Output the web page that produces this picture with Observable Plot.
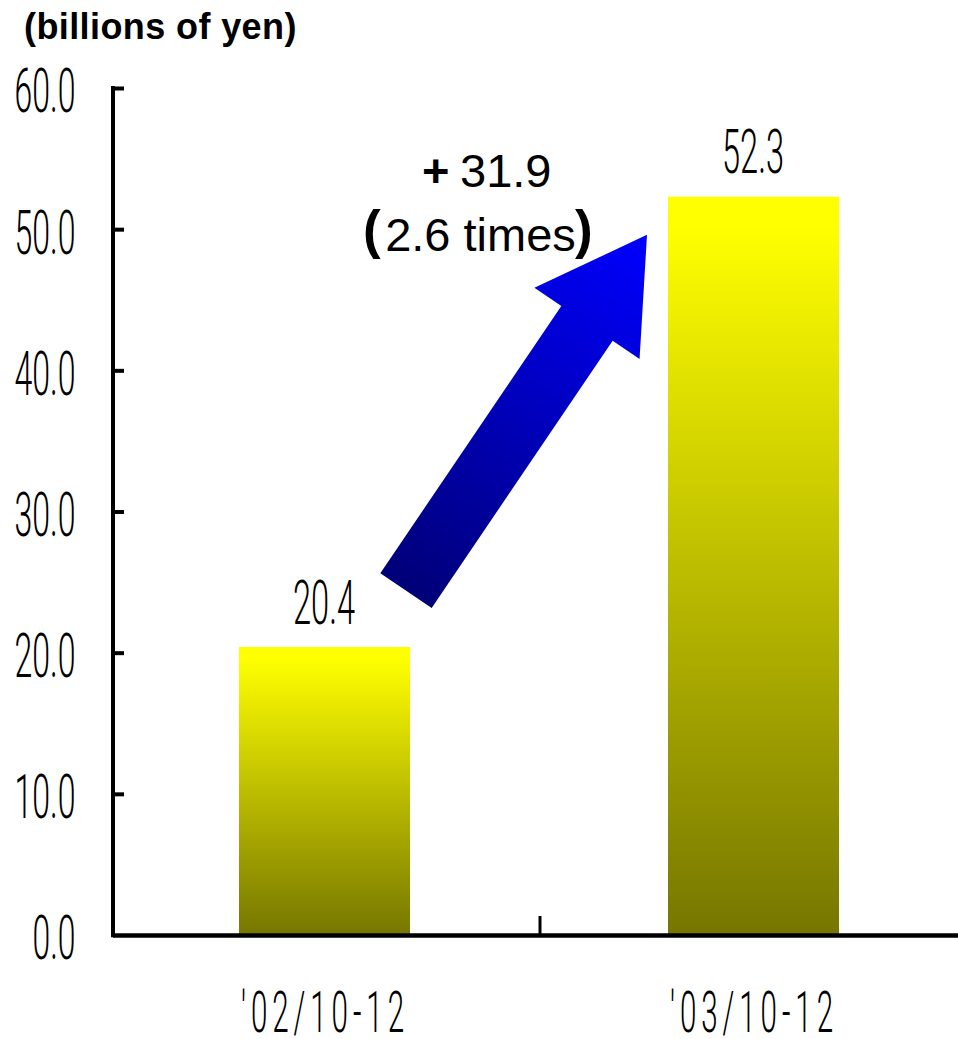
<!DOCTYPE html>
<html><head><meta charset="utf-8">
<script src="https://cdn.jsdelivr.net/npm/d3@7"></script>
<script src="https://cdn.jsdelivr.net/npm/@observablehq/plot@0.6"></script>
<style>
body{margin:0;background:#fff;width:958px;height:1039px;overflow:hidden;}
#title{height:54px;padding-top:6px;line-height:50px;padding-left:24px;font:bold 36px "Liberation Sans",Arial,sans-serif;letter-spacing:0.4px;color:#000;white-space:nowrap;}
svg{display:block}
.narrow{font-family:Roboto,"Liberation Sans",sans-serif;font-weight:300;}
</style></head><body>
<div id="title">(billions of yen)</div>
<div id="chart"></div>
<script>
const periods = ["'02/10-12", "'03/10-12"];
const sales = [20.4, 52.3];
const valueLabels = ["20.4", "52.3"];
const yTicks = [0, 10, 20, 30, 40, 50, 60];
const increaseLabel = "31.9";
const ratioLabel = "2.6 times";
const arrowFromValue = 24.4;
const arrowToValue = 49.6;

const data = periods.map((p, i) => ({period: p, value: sales[i], label: valueLabels[i]}));

function defsMark() {
  const g = d3.create("svg:g");
  const grad = g.append("defs").append("linearGradient")
    .attr("id", "barGrad").attr("x1", 0).attr("y1", 0).attr("x2", 0).attr("y2", 1);
  grad.append("stop").attr("offset", 0).attr("stop-color", "#ffff00");
  grad.append("stop").attr("offset", 0.04).attr("stop-color", "#ffff00");
  grad.append("stop").attr("offset", 1).attr("stop-color", "#767600");
  return g.node();
}

function axisLines(index, scales, values, dims) {
  const {x, y} = scales;
  const bw = x.bandwidth();
  const g = d3.create("svg:g").attr("stroke", "#000");
  const xl = dims.marginLeft;
  g.append("line").attr("x1", xl).attr("x2", xl)
    .attr("y1", y(yTicks[yTicks.length - 1]) - 2).attr("y2", y(0) + 2.2).attr("stroke-width", 4);
  const xm = (x(periods[0]) + bw + x(periods[1])) / 2 + 1;
  g.append("line").attr("x1", xm).attr("x2", xm)
    .attr("y1", y(0)).attr("y2", y(0) - 19).attr("stroke-width", 3);
  return g.node();
}

function arrowMark(index, scales) {
  const {x, y} = scales;
  const bw = x.bandwidth();
  const x0 = x(periods[0]) + bw - 4, y0 = y(arrowFromValue);
  const x1 = x(periods[1]) - 21, y1 = y(arrowToValue);
  const vx = x1 - x0, vy = y1 - y0, L = Math.hypot(vx, vy);
  const ux = vx / L, uy = vy / L, nx = -uy, ny = ux;
  const sw = 31, hw = 63.5, hl = 107;
  const hx = x0 + ux * (L - hl), hy = y0 + uy * (L - hl);
  const pts = [
    [x0 - nx * sw, y0 - ny * sw], [hx - nx * sw, hy - ny * sw], [hx - nx * hw, hy - ny * hw],
    [x1, y1],
    [hx + nx * hw, hy + ny * hw], [hx + nx * sw, hy + ny * sw], [x0 + nx * sw, y0 + ny * sw]
  ];
  const g = d3.create("svg:g");
  const grad = g.append("defs").append("linearGradient")
    .attr("id", "arrowGrad").attr("gradientUnits", "userSpaceOnUse")
    .attr("x1", x0).attr("y1", y0).attr("x2", x1).attr("y2", y1);
  grad.append("stop").attr("offset", 0).attr("stop-color", "#000078");
  grad.append("stop").attr("offset", 1).attr("stop-color", "#0000ff");
  g.append("path").attr("d", "M" + pts.map(p => p.join(",")).join("L") + "Z").attr("fill", "url(#arrowGrad)");
  return g.node();
}

const chart = Plot.plot({
  width: 958, height: 979,
  marginTop: 28, marginBottom: 104, marginLeft: 113, marginRight: 0,
  style: {fontFamily: '"Liberation Sans", Arial, sans-serif', background: "#fff", color: "#000", overflow: "visible"},
  x: {type: "band", domain: periods, paddingInner: 0.6014, paddingOuter: 0.2855, align: 0.514},
  y: {domain: [0, 60]},
  marks: [
    defsMark,
    Plot.barY(data, {x: "period", y: "value", fill: "url(#barGrad)"}),
    Plot.ruleY([0], {strokeWidth: 4.5, stroke: "#000"}),
    axisLines,
    Plot.axisY(yTicks.slice(1), {tickSize: -11, strokeWidth: 4, tickFormat: () => "", label: null}),
    Plot.axisY(yTicks, {tickSize: 0, tickPadding: 38, tickFormat: d3.format(".1f"), fontSize: 62, dy: 4, label: null}),
    Plot.axisX({tickSize: 0, tickPadding: 56, fontSize: 57, label: null}),
    Plot.text(data, {x: "period", y: "value", text: "label", lineAnchor: "bottom", dy: -24, dx: -1, fontSize: 61}),
    Plot.text(["+"], {x: () => periods[0], y: () => 53.0, text: d => d, textAnchor: "end", lineAnchor: "bottom", dx: 124.5, fontSize: 47, fontWeight: "bold"}),
    Plot.text([increaseLabel], {x: () => periods[0], y: () => 53.0, text: d => d, textAnchor: "start", lineAnchor: "bottom", dx: 135, fontSize: 47}),
    Plot.text([ratioLabel], {x: () => periods[0], y: () => 48.52, text: d => d, textAnchor: "middle", lineAnchor: "bottom", dx: 155.5, fontSize: 47}),
    Plot.text(["("], {x: () => periods[0], y: () => 48.52, text: d => d, textAnchor: "start", lineAnchor: "bottom", dx: 38, dy: -3, fontSize: 53, fontWeight: "bold"}),
    Plot.text([")"], {x: () => periods[0], y: () => 48.52, text: d => d, textAnchor: "start", lineAnchor: "bottom", dx: 250, dy: -3, fontSize: 53, fontWeight: "bold"}),
    arrowMark
  ]
});
document.getElementById("chart").appendChild(chart);

function squeeze(texts, targetWidth, ls) {
  texts.forEach(t => {
    t.classList.add("narrow");
    if (ls) t.style.letterSpacing = ls;
    const xa = t.getAttribute("x");
    let tr = t.getAttribute("transform") || "";
    if (xa && !isNaN(+xa)) { tr += ` translate(${+xa},0)`; t.setAttribute("x", 0); }
    t.setAttribute("transform", tr);
    const natural = t.getComputedTextLength();
    const f = targetWidth(t.textContent) / natural;
    t.setAttribute("transform", tr + ` scale(${f},1)`);
  });
}
// target widths measured on the reference: "xx.x" ≈ 61px, "x.x" ≈ 43px; period labels ≈ 168px
const numW = (s) => s.length === 3 ? 43 : 61;
squeeze(chart.querySelectorAll('g[aria-label="y-axis tick label"] text'), numW);
squeeze(chart.querySelectorAll('g[aria-label="x-axis tick label"] text'), () => 168, "9.5px");
const valueTexts = [];
chart.querySelectorAll('g[aria-label="text"]').forEach(g => {
  if (g.getAttribute("font-size") === "61") g.querySelectorAll("text").forEach(t => valueTexts.push(t));
});
squeeze(valueTexts, () => 62);
</script>
</body></html>
